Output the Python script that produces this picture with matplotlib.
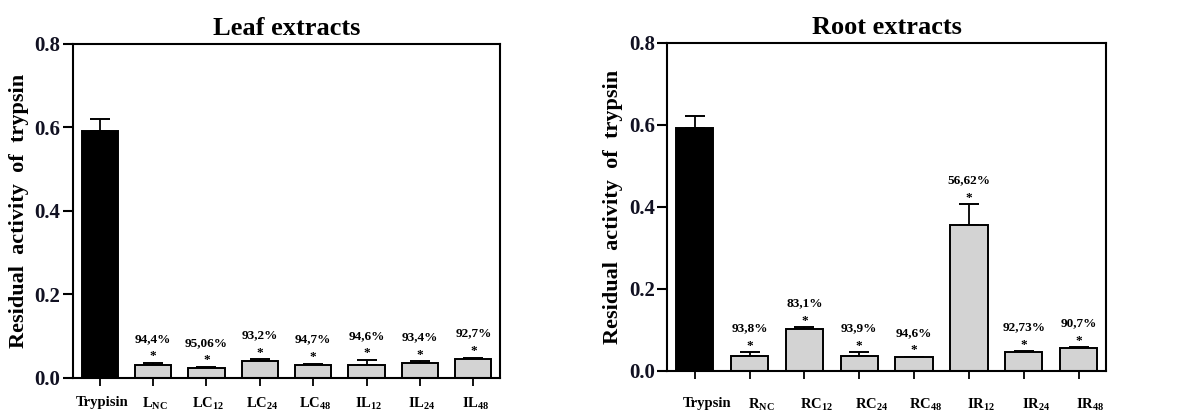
import numpy as np
import matplotlib
matplotlib.use("Agg")
import matplotlib.pyplot as plt
import matplotlib.transforms as mtransforms

plt.rcParams['font.family'] = ['Liberation Serif', 'DejaVu Serif']
plt.rcParams['font.weight'] = 'bold'
plt.rcParams['mathtext.fontset'] = 'custom'
plt.rcParams['mathtext.rm'] = 'Liberation Serif:bold'
plt.rcParams['mathtext.it'] = 'Liberation Serif:bold'
plt.rcParams['mathtext.bf'] = 'Liberation Serif:bold'

# ---------------- data ----------------
leaf_labels = ['Trypisin', r'$\mathrm{L}_{\mathrm{NC}}$', r'$\mathrm{LC}_{12}$', r'$\mathrm{LC}_{24}$',
               r'$\mathrm{LC}_{48}$', r'$\mathrm{IL}_{12}$', r'$\mathrm{IL}_{24}$', r'$\mathrm{IL}_{48}$']
leaf_values = [0.592, 0.030, 0.024, 0.040, 0.030, 0.030, 0.035, 0.044]
leaf_errors = [0.028, 0.005, 0.002, 0.004, 0.004, 0.013, 0.004, 0.004]
leaf_inhib = [None, '94,4%', '95,06%', '93,2%', '94,7%', '94,6%', '93,4%', '92,7%']

root_labels = ['Trypsin', r'$\mathrm{R}_{\mathrm{NC}}$', r'$\mathrm{RC}_{12}$', r'$\mathrm{RC}_{24}$',
               r'$\mathrm{RC}_{48}$', r'$\mathrm{IR}_{12}$', r'$\mathrm{IR}_{24}$', r'$\mathrm{IR}_{48}$']
root_values = [0.593, 0.037, 0.102, 0.037, 0.033, 0.355, 0.046, 0.056]
root_errors = [0.027, 0.008, 0.004, 0.008, 0.000, 0.051, 0.001, 0.001]
root_inhib = [None, '93,8%', '83,1%', '93,9%', '94,6%', '56,62%', '92,73%', '90,7%']

yticks = [0.0, 0.2, 0.4, 0.6, 0.8]

W, H = 1184, 411
fig = plt.figure(figsize=(W / 100, H / 100), dpi=100)

def panel(rect, title, labels, values, errors, inhib, label_pad, label_shift):
    ax = fig.add_axes(rect)
    x = np.arange(len(values))
    colors = ['black'] + ['#d3d3d3'] * (len(values) - 1)
    ax.bar(x, values, width=0.68, color=colors, edgecolor='black', linewidth=1.4, zorder=2)
    low = np.zeros(len(values))
    ax.errorbar(x, values, yerr=[low, errors], fmt='none', ecolor='black',
                elinewidth=1.3, capsize=7, capthick=1.4, zorder=1)
    for xi, v, e, t in zip(x, values, errors, inhib):
        if t is None:
            continue
        top = v + e
        ax.annotate('*', (xi, top), xytext=(0, 0.5), textcoords='offset points',
                    ha='center', va='bottom', fontsize=9.5, fontweight='bold')
        ax.annotate(t, (xi, top), xytext=(0, 13), textcoords='offset points',
                    ha='center', va='bottom', fontsize=9.5, fontweight='bold')
    ax.set_xlim(-0.5, len(values) - 0.5)
    ax.set_ylim(0, 0.8)
    ax.set_yticks(yticks)
    ax.set_yticklabels([f'{t:.1f}' for t in yticks], fontsize=15, fontweight='bold', color='#111122')
    ax.set_xticks(x)
    ax.set_xticklabels(labels, fontsize=10.5, fontweight='bold')
    ax.tick_params(axis='x', length=6, width=1.3, pad=label_pad, direction='out')
    ax.tick_params(axis='y', length=7, width=1.5, pad=2, direction='out')
    offset = mtransforms.ScaledTranslation(label_shift / 100, 0, fig.dpi_scale_trans)
    for lab in ax.get_xticklabels():
        lab.set_transform(lab.get_transform() + offset)
    for s in ax.spines.values():
        s.set_linewidth(1.5)
    ax.set_title(title, fontsize=19, fontweight='bold', pad=6)
    ax.set_ylabel('Residual  activity  of  trypsin', fontsize=16, fontweight='bold', labelpad=4)
    return ax

panel([73 / W, 1 - 377.7 / H, 427 / W, 334 / H], 'Leaf extracts',
      leaf_labels, leaf_values, leaf_errors, leaf_inhib, 7, 2)
panel([667.3 / W, 1 - 370.7 / H, 438.7 / W, 328 / H], 'Root extracts',
      root_labels, root_values, root_errors, root_inhib, 13, 12)

fig.savefig('out.png', dpi=100)
